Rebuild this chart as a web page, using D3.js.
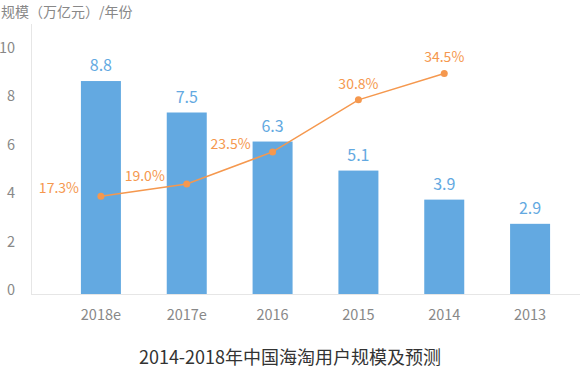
<!DOCTYPE html>
<html>
<head>
<meta charset="utf-8">
<script src="https://cdn.jsdelivr.net/npm/d3@7"></script>
<style>
  html, body { margin: 0; padding: 0; background: #fff; }
  svg { display: block; font-family: "Noto Sans CJK SC", "Noto Sans", sans-serif; }
</style>
</head>
<body>
<svg id="chart" width="580" height="369"></svg>
<script>
const categories = ["2018e", "2017e", "2016", "2015", "2014", "2013"];
const scaleValues = [8.8, 7.5, 6.3, 5.1, 3.9, 2.9];
const growthCategories = ["2018e", "2017e", "2016", "2015", "2014"];
const growthValues = [17.3, 19.0, 23.5, 30.8, 34.5];
const yTicks = [0, 2, 4, 6, 8, 10];
const yTitle = "规模（万亿元）/年份";
const chartTitle = "2014-2018年中国海淘用户规模及预测";

const blue = "#63a9e1";
const orange = "#f5984e";
const gray = "#888888";

const svg = d3.select("#chart");

const x = d3.scaleBand().domain(categories).range([58, 573])
  .paddingInner(0.534).paddingOuter(0.267);
const y = d3.scaleLinear().domain([0, 10]).range([294, 52]);
const y2 = d3.scaleLinear().domain([3.6, 37.5]).range([294, 52]);

// axes lines
svg.append("line").attr("x1", 31.5).attr("x2", 31.5).attr("y1", 24).attr("y2", 294.5)
  .attr("stroke", "#e6e6e6").attr("stroke-width", 1);
svg.append("line").attr("x1", 31).attr("x2", 580).attr("y1", 294.5).attr("y2", 294.5)
  .attr("stroke", "#e6e6e6").attr("stroke-width", 1);

// y axis title
svg.append("text").attr("x", 1).attr("y", 17).attr("font-size", 14).attr("fill", gray)
  .text(yTitle);

// y tick labels
svg.append("g").selectAll("text").data(yTicks).join("text")
  .attr("x", 15).attr("y", d => y(d) - 4).attr("dy", "0.35em")
  .attr("text-anchor", "end").attr("font-size", 14.5).attr("fill", gray)
  .text(d => d);

// x tick labels
svg.append("g").selectAll("text").data(categories).join("text")
  .attr("x", d => x(d) + x.bandwidth() / 2).attr("y", 320)
  .attr("text-anchor", "middle").attr("font-size", 14.5).attr("fill", gray)
  .text(d => d);

// bars
svg.append("g").selectAll("rect").data(categories).join("rect")
  .attr("x", d => x(d)).attr("width", x.bandwidth())
  .attr("y", (d, i) => y(scaleValues[i]))
  .attr("height", (d, i) => y(0) - y(scaleValues[i]))
  .attr("fill", blue);

// bar labels
svg.append("g").selectAll("text").data(categories).join("text")
  .attr("x", d => x(d) + x.bandwidth() / 2)
  .attr("y", (d, i) => y(scaleValues[i]) - 10)
  .attr("text-anchor", "middle").attr("font-size", 16).attr("fill", blue)
  .text((d, i) => scaleValues[i].toFixed(1));

// growth line
const cx = d => x(d) + x.bandwidth() / 2;
const line = d3.line().x((d, i) => cx(growthCategories[i])).y(d => y2(d));
svg.append("path").datum(growthValues).attr("d", line)
  .attr("fill", "none").attr("stroke", orange).attr("stroke-width", 1.5);
svg.append("g").selectAll("circle").data(growthValues).join("circle")
  .attr("cx", (d, i) => cx(growthCategories[i])).attr("cy", d => y2(d))
  .attr("r", 3.5).attr("fill", orange);

// growth labels: first three to the left, rest above
svg.append("g").selectAll("text").data(growthValues).join("text")
  .attr("x", (d, i) => cx(growthCategories[i]) + (i < 3 ? -42 : 0))
  .attr("y", (d, i) => y2(d) + (i < 3 ? -8 : -16))
  .attr("dy", "0.35em")
  .attr("text-anchor", "middle").attr("font-size", 14).attr("fill", orange)
  .text(d => d.toFixed(1) + "%");

// chart title
svg.append("text").attr("x", 290).attr("y", 364).attr("text-anchor", "middle")
  .attr("font-size", 18).attr("fill", "#333").text(chartTitle);
</script>
</body>
</html>
